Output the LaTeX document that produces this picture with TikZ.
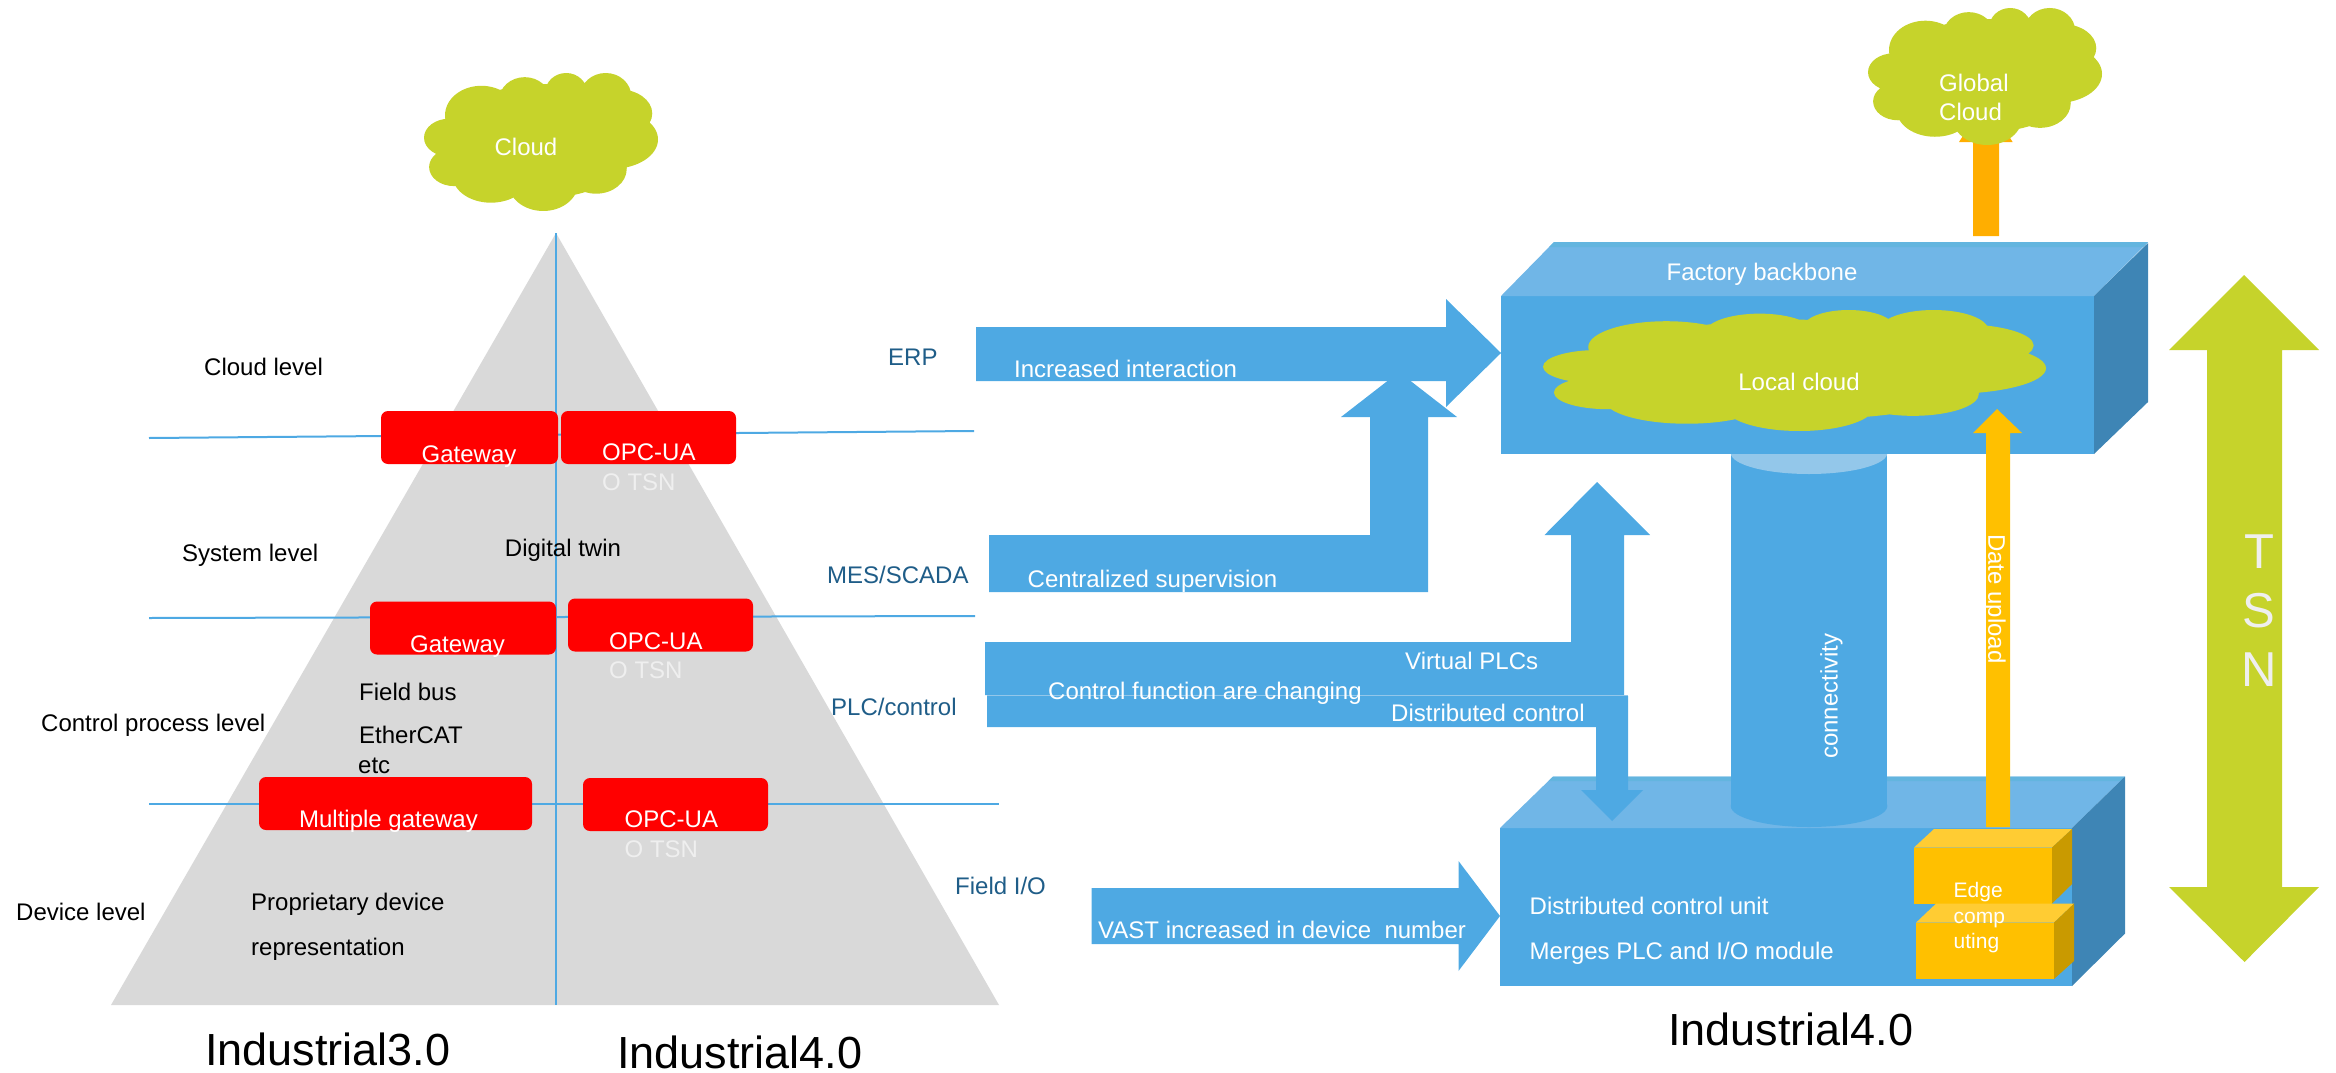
\documentclass[tikz,border=0pt]{standalone}
\usepackage{fontspec}
\setmainfont{Liberation Sans}
\definecolor{bluef}{HTML}{4EA9E3}
\definecolor{bluet}{HTML}{70B6E7}
\definecolor{bluest}{HTML}{63B5DF}
\definecolor{blues}{HTML}{3E85B5}
\definecolor{bluel}{HTML}{93C7EA}
\definecolor{bluetx}{HTML}{1F5D88}
\definecolor{lime}{HTML}{C6D32B}
\definecolor{org}{HTML}{FFC000}
\definecolor{orgt}{HTML}{FFCC33}
\definecolor{orgs}{HTML}{C99A00}
\definecolor{orgd}{HTML}{FFAE00}
\definecolor{redb}{HTML}{FF0000}
\definecolor{greyt}{HTML}{D9D9D9}
\definecolor{offw}{HTML}{EFEFEF}
\newcommand{\mycloud}[4]{%
  \fill[lime,shift={(#1,#2)},xscale={#3/367},yscale={#4/399}]
    (185,197) ellipse [x radius=150,y radius=165]
    (90,122) ellipse [x radius=57,y radius=85]
    (158,77) ellipse [x radius=40,y radius=65]
    (223,57) ellipse [x radius=33,y radius=57]
    (285,67) ellipse [x radius=40,y radius=67]
    (305,117) ellipse [x radius=53,y radius=70]
    (295,192) ellipse [x radius=72,y radius=85]
    (270,277) ellipse [x radius=48,y radius=72]
    (187,317) ellipse [x radius=55,y radius=82]
    (105,297) ellipse [x radius=60,y radius=78]
    (47,272) ellipse [x radius=39,y radius=55]
    (40,187) ellipse [x radius=40,y radius=55];}
\tikzset{
  x=1pt,y=-1pt,
  every node/.style={inner sep=0pt,text height=0.72em,text depth=0.2em},
  rlab/.style={font=\fontsize{24}{29}\selectfont,text=white},
  lab/.style={font=\fontsize{24}{29}\selectfont,yshift=-6.5pt},
  wlab/.style={lab,text=white},
  blab/.style={lab,text=bluetx},
  tsntx/.style={lab,text=offw},
  edgetx/.style={font=\fontsize{21}{25}\selectfont,yshift=-5.5pt,text=white,anchor=west},
  big/.style={font=\fontsize{45}{54}\selectfont,yshift=-15pt,text depth=0pt},
  tsnl/.style={font=\fontsize{49}{58}\selectfont,yshift=-15pt,text=offw},
  level/.style={draw=bluef,line width=2pt},
  redbox/.style={fill=redb,rounded corners=7pt},
}
\begin{document}
\begin{tikzpicture}
\useasboundingbox (0,0) rectangle (2336,1073);
% pyramid
\fill[greyt] (556,233) -- (999,1005) -- (111,1005) -- cycle;
\draw[level] (149,438) -- (974,431);
\draw[level] (149,618) -- (975,616);
\draw[level] (149,803.5) -- (999,803.5);
\draw[bluef,line width=1.6pt] (556,233) -- (556,1005);
\fill[redbox] (381,411) rectangle (558,464);
\fill[redbox] (561,411) rectangle (736,464);
\fill[redbox] (370,601.5) rectangle (556,654.5);
\fill[redbox] (568,598.5) rectangle (753,651.5);
\fill[redbox] (259,777) rectangle (532,830);
\fill[redbox] (583,778) rectangle (768,831);
\node[wlab] (g1) at (469,453) {Gateway};
\node[wlab,anchor=west] (o1) at (602,451) {OPC-UA};
\node[tsntx,anchor=west] (t1) at (602,481) {O TSN};
\node[wlab] (g2) at (457.5,643) {Gateway};
\node[wlab,anchor=west] (o2) at (609,640) {OPC-UA};
\node[tsntx,anchor=west] (t2) at (609,669) {O TSN};
\node[wlab] (g3) at (388.5,818) {Multiple gateway};
\node[wlab,anchor=west] (o3) at (624.5,818.5) {OPC-UA};
\node[tsntx,anchor=west] (t3) at (624.5,848) {O TSN};
\node[lab,anchor=west] (l1) at (204,366) {Cloud level};
\node[lab,anchor=west] (l2) at (182,552) {System level};
\node[lab,anchor=west] (l3) at (41,722) {Control process level};
\node[lab,anchor=west] (l4) at (16,911) {Device level};
\node[lab] (dt) at (563,547) {Digital twin};
\node[lab,anchor=west] (fb) at (359,691) {Field bus};
\node[lab,anchor=west] (ec) at (359,734.5) {EtherCAT};
\node[lab,anchor=west] (et) at (358,764) {etc};
\node[lab,anchor=west] (pd) at (251,901) {Proprietary device};
\node[lab,anchor=west] (rp) at (251,946) {representation};
\node[big,anchor=west] (i3) at (205,1047) {Industrial3.0};
\node[big,anchor=west] (i4) at (617,1050) {Industrial4.0};
\node[blab,anchor=west] (erp) at (888,356) {ERP};
\node[blab,anchor=west] (mes) at (827,574) {MES/SCADA};
\node[blab,anchor=west] (plc) at (831,706.5) {PLC/control};
\node[blab,anchor=west] (fio) at (955,885) {Field I/O};
% left cloud
\mycloud{424}{73}{234}{138}
\node[wlab] (c1) at (526,146) {Cloud};
% lower box
\fill[bluef] (1500,828) rectangle (2072,986);
\fill[bluet] (1500,828) -- (2072,828) -- (2125,776.5) -- (1553,776.5) -- cycle;
\fill[bluest] (1553,776.5) -- (2125,776.5) -- (2120,781) -- (1548.5,781) -- cycle;
\fill[blues] (2072,828) -- (2125,776.5) -- (2125,933.5) -- (2072,986) -- cycle;
% cylinder
\fill[bluef] (1730.5,453) rectangle (1887,806);
\fill[bluef] (1809,806) ellipse [x radius=78.3,y radius=21];
\fill[bluel] (1809,453) ellipse [x radius=78.3,y radius=21];
\node[rlab,rotate=90] (cn) at (1835,696) {connectivity};
% global arrow
\fill[orgd] (1973,236) -- (1999,236) -- (1999,142) -- (2012.6,142) -- (1986,100) -- (1959,142) -- (1973,142) -- cycle;
\mycloud{1868}{8}{234}{137}
\node[wlab,anchor=west] (gl) at (1939,82) {Global};
\node[wlab,anchor=west] (gc) at (1939,111) {Cloud};
% factory box
\fill[bluef] (1501,296) rectangle (2094,454);
\fill[bluet] (1501,296) -- (2094,296) -- (2148,242) -- (1554,242) -- cycle;
\fill[bluest] (1554,242) -- (2148,242) -- (2143,247) -- (1549,247) -- cycle;
\fill[blues] (2094,296) -- (2148,243) -- (2148,402) -- (2094,454) -- cycle;
\mycloud{1543}{310}{503}{121}
\node[wlab] (fbk) at (1762,271) {Factory backbone};
\node[wlab] (lc) at (1799,381) {Local cloud};
% date upload arrow
\fill[org] (1986,827) -- (2010,827) -- (2010,433) -- (2022,433) -- (1997,409) -- (1973,433) -- (1986,433) -- cycle;
\node[rlab,rotate=-90] (du) at (1991,599) {Date upload};
% edge boxes
\fill[org] (1914,847.5) rectangle (2052,903.6);
\fill[orgt] (1914,847.5) -- (2052,847.5) -- (2072,829) -- (1934,829) -- cycle;
\fill[orgs] (2052,847.5) -- (2072,829) -- (2072,884) -- (2052,903.6) -- cycle;
\fill[org] (1916,922.6) rectangle (2054,979);
\fill[orgt] (1916,922.6) -- (2054,922.6) -- (2074,903.6) -- (1936,903.6) -- cycle;
\fill[orgs] (2054,922.6) -- (2074,903.6) -- (2074,961) -- (2054,979) -- cycle;
\node[edgetx] (e1) at (1953.5,889) {Edge};
\node[edgetx] (e2) at (1953.5,915) {comp};
\node[edgetx] (e3) at (1953.5,940) {uting};
% blue arrows
\fill[bluef] (976,327) -- (1446,327) -- (1446,299) -- (1501,353) -- (1446,407) -- (1446,381) -- (976,381) -- cycle;
\fill[bluef] (989,535) -- (1370,535) -- (1370,417) -- (1341,417) -- (1399,372) -- (1457,417) -- (1428,417) -- (1428,592) -- (989,592) -- cycle;
\fill[bluef] (985,642) -- (1571,642) -- (1571,535) -- (1544.5,535) -- (1597,482) -- (1650,535) -- (1624,535) -- (1624,695) -- (985,695) -- cycle;
\fill[bluef] (987,696) -- (1628,696) -- (1628,790) -- (1643,790) -- (1612,821) -- (1581,790) -- (1596,790) -- (1596,727) -- (987,727) -- cycle;
\draw[bluel,line width=1.5pt] (987,695.5) -- (1628,695.5);
\fill[bluef] (1091.5,888) -- (1458.5,888) -- (1458.5,861) -- (1500,916) -- (1458.5,971) -- (1458.5,944) -- (1091.5,944) -- cycle;
\node[wlab,anchor=west] (a1) at (1014,368) {Increased interaction};
\node[wlab,anchor=west] (a2) at (1027.5,578) {Centralized supervision};
\node[wlab,anchor=west] (a3) at (1405,660) {Virtual PLCs};
\node[wlab,anchor=west] (a4) at (1048,690.5) {Control function are changing};
\node[wlab,anchor=west] (a5) at (1391,712) {Distributed control};
\node[wlab,anchor=west] (a6) at (1098,929) {VAST increased in device\ \ number};
\node[wlab,anchor=west] (b1) at (1529.5,905.5) {Distributed control unit};
\node[wlab,anchor=west] (b2) at (1529.5,950.5) {Merges PLC and I/O module};
\node[big,anchor=west] (i5) at (1668,1027) {Industrial4.0};
% TSN arrow
\fill[lime] (2244,275) -- (2319,350) -- (2282,350) -- (2282,887) -- (2319,887) -- (2244.5,962) -- (2169,887) -- (2207,887) -- (2207,350) -- (2169,350) -- cycle;
\node[tsnl] (tt) at (2259,551) {T};
\node[tsnl] (ts) at (2259,610) {S};
\node[tsnl] (tn) at (2259,669) {N};
\end{tikzpicture}
\end{document}
